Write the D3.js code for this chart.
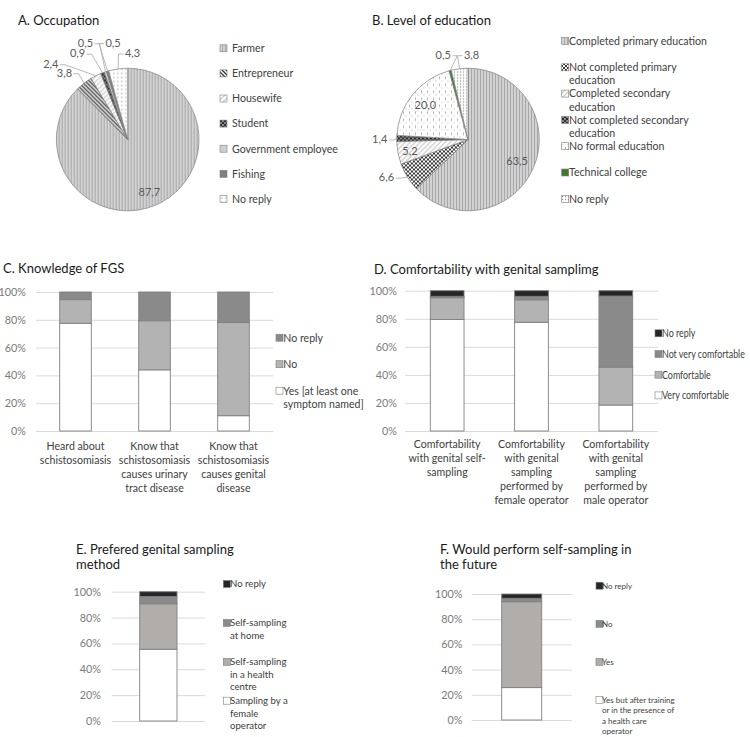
<!DOCTYPE html>
<html><head><meta charset="utf-8">
<script src="https://cdn.jsdelivr.net/npm/d3@7"></script>
<style>body{margin:0;background:#fff} text{font-family:Lato,"Open Sans",sans-serif}</style>
</head><body><svg id="c" width="750" height="737"></svg>
<script>
// ---------------- DATA ----------------
const occupationCategories = ["Farmer","Entrepreneur","Housewife","Student","Government employee","Fishing","No reply"];
const occupationValues = [87.7,3.8,2.4,0.9,0.5,0.5,4.3];

const educationCategories = [["Completed primary education"],["Not completed primary","education"],["Completed secondary","education"],["Not completed secondary","education"],["No formal education"],["Technical college"],["No reply"]];
const educationValues = [63.5,6.6,5.2,1.4,20.0,0.5,3.8];

const knowledgeCategories = [["Heard about","schistosomiasis"],["Know that","schistosomiasis","causes urinary","tract disease"],["Know that","schistosomiasis","causes genital","disease"]];
const knowledgeSeries = [["Yes [at least one","symptom named]"],["No"],["No reply"]];
const knowledgeYes = [77.5,44.0,11.0];
const knowledgeNo = [17.0,35.3,67.0];
const knowledgeNoReply = [5.5,20.7,22.0];

const comfortCategories = [["Comfortability","with genital self-","sampling"],["Comfortability","with genital","sampling","performed by","female operator"],["Comfortability","with genital","sampling","performed by","male operator"]];
const comfortSeries = [["Very comfortable"],["Comfortable"],["Not very comfortable"],["No reply"]];
const comfortVery = [79.5,77.5,18.5];
const comfortComfortable = [15.5,16.0,27.0];
const comfortNotVery = [1.0,2.5,50.7];
const comfortNoReply = [4.0,4.0,3.8];

const preferredSeries = [["Sampling by a","female","operator"],["Self-sampling","in a health","centre"],["Self-sampling","at home"],["No reply"]];
const preferredValues = [55.5,35.2,5.6,3.7];

const futureSeries = [["Yes but after training","or in the presence of","a health care","operator"],["Yes"],["No"],["No reply"]];
const futureValues = [25.7,68.2,2.7,3.4];

const percentTicks = [0,20,40,60,80,100];

// ---------------- SETUP ----------------
const svg = d3.select("#c");
const fmt = d3.formatLocale({decimal:",",thousands:".",grouping:[3],currency:["",""]}).format(".1f");
const defs = svg.append("defs");
function pattern(id,w,h,bg,build){
  const p = defs.append("pattern").attr("id",id).attr("patternUnits","userSpaceOnUse").attr("width",w).attr("height",h);
  p.append("rect").attr("width",w).attr("height",h).attr("fill",bg);
  build(p);
}
pattern("vstripe",3,3,"#d2d2d2",p=>p.append("rect").attr("x",0).attr("width",1).attr("height",3).attr("fill","#a8a8a8"));
pattern("diagDark",4,4,"#fff",p=>p.append("path").attr("d","M0,0L4,4M-1,3L1,5M3,-1L5,1").attr("stroke","#333").attr("stroke-width",1.3));
pattern("diagLight",5,5,"#fff",p=>p.append("path").attr("d","M0,5L5,0M-1,1L1,-1M4,6L6,4").attr("stroke","#c4c4c4").attr("stroke-width",1.1));
pattern("checker",4,4,"#888",p=>{p.append("rect").attr("width",2).attr("height",2).attr("fill","#2e2e2e");p.append("rect").attr("x",2).attr("y",2).attr("width",2).attr("height",2).attr("fill","#2e2e2e");});
pattern("crossDark",4,4,"#fff",p=>p.append("path").attr("d","M0,0L4,4M-1,3L1,5M3,-1L5,1M0,4L4,0M-1,1L1,-1M3,5L5,3").attr("stroke","#3a3a3a").attr("stroke-width",1));
pattern("dots",4,4,"#fff",p=>p.append("circle").attr("cx",2).attr("cy",2).attr("r",0.7).attr("fill","#9a9a9a"));
pattern("dotsDense",3,3,"#fff",p=>p.append("circle").attr("cx",1.5).attr("cy",1.5).attr("r",0.7).attr("fill","#909090"));
pattern("dotDash",6,7,"#fff",p=>{p.append("rect").attr("x",1).attr("y",0).attr("width",0.9).attr("height",2.5).attr("fill","#a8a8a8");p.append("circle").attr("cx",4).attr("cy",4.5).attr("r",0.6).attr("fill","#a8a8a8");});

const occFills = ["url(#vstripe)","url(#diagDark)","url(#diagLight)","url(#checker)","#d0d0d0","#7f7f7f","url(#dots)"];
const eduFills = ["url(#vstripe)","url(#crossDark)","url(#diagLight)","url(#checker)","url(#dotDash)","#3e7b2f","url(#dotsDense)"];

function title(lines,x,y){
  const t = svg.append("text").attr("x",x).attr("y",y).attr("font-size",13).attr("fill","#1a1a1a");
  lines.forEach((l,i)=>t.append("tspan").attr("x",x).attr("dy",i?15:0).text(l));
}

function legend(items,fills,cfg){
  const g = svg.append("g");
  const sc = cfg.sc || 1;
  items.forEach((lines,i)=>{
    const cy = cfg.y0 + i*cfg.step;
    g.append("rect").attr("x",cfg.sx).attr("y",cy-3.5).attr("width",7).attr("height",7)
      .attr("fill",fills[i]).attr("stroke","#7f7f7f").attr("stroke-width",0.6);
    const t = g.append("text").attr("transform",`translate(${cfg.tx},${cy+cfg.fs*0.36}) scale(${sc},1)`)
      .attr("x",0).attr("y",0).attr("font-size",cfg.fs).attr("fill","#404040");
    lines.forEach((l,j)=>t.append("tspan").attr("x",0).attr("dy",j?cfg.lh:0).text(l));
  });
}

// ---------------- PIES ----------------
function pie(cfg){
  const g = svg.append("g").attr("transform",`translate(${cfg.cx},${cfg.cy})`);
  const arcs = d3.pie().sort(null)(cfg.values);
  const arc = d3.arc().innerRadius(0).outerRadius(cfg.r);
  g.selectAll("path.s").data(arcs).join("path").attr("class","s").attr("d",arc)
    .attr("fill",(d,i)=>cfg.fills[i]).attr("stroke","#7f7f7f").attr("stroke-width",0.7);
  arcs.forEach((a,i)=>{
    const L = cfg.labels[i];
    const m = (a.startAngle+a.endAngle)/2;
    const sx = Math.sin(m), sy = -Math.cos(m);
    if(L.in!==undefined){
      g.append("text").attr("x",sx*cfg.r*L.in).attr("y",sy*cfg.r*L.in+4).attr("text-anchor","middle")
        .attr("font-size",11).attr("fill","#595959").text(fmt(cfg.values[i]));
    } else {
      const px = sx*cfg.r, py = sy*cfg.r;
      const lx = px+L.dx, ly = py+L.dy;
      const t = g.append("text").attr("x",lx).attr("y",ly+4).attr("text-anchor","middle")
        .attr("font-size",11).attr("fill","#595959").text(fmt(cfg.values[i]));
      const w = t.node().getComputedTextLength();
      const side = L.dx<0 ? 1 : -1;
      const ex = lx + side*(w/2+1.5), ex2 = ex + side*5;
      g.append("path").attr("d",`M${ex},${ly+1}L${ex2},${ly+1}L${px},${py}`)
        .attr("fill","none").attr("stroke","#a6a6a6").attr("stroke-width",0.8);
    }
  });
}

title(["A. Occupation"],18,25);
pie({cx:127.7,cy:139.5,r:71.3,values:occupationValues,fills:occFills,
  labels:[{in:0.8},{dx:-19.6,dy:-10.4},{dx:-45,dy:-12},{dx:-25,dy:-19.6},{dx:-20,dy:-29},{dx:5.5,dy:-28.6},{dx:14.5,dy:-15.8}]});
legend(occupationCategories.map(d=>[d]),occFills,{sx:220,tx:232,y0:48.3,step:25.1,lh:13,fs:10.6});

title(["B. Level of education"],372,25);
pie({cx:468,cy:139.5,r:71.3,values:educationValues,fills:eduFills,
  labels:[{in:0.75},{dx:-21,dy:0},{in:0.83},{dx:-17,dy:0.6},{in:0.77},{dx:-7,dy:-15.7},{dx:12,dy:-14}]});
legend(educationCategories,eduFills,{sx:561.7,tx:569,y0:41,step:26.3,lh:13.3,fs:10.6});

// ---------------- STACKED BARS ----------------
function stacked(cfg){
  const g = svg.append("g");
  const n = cfg.cats.length;
  const x = d3.scaleBand().domain(d3.range(n)).range([cfg.x0,cfg.x1]).paddingInner(0.6).paddingOuter(0.3);
  const y = d3.scaleLinear().domain([0,100]).range([cfg.yb,cfg.yt]);
  g.append("g").attr("transform",`translate(${cfg.x0},0)`)
    .call(d3.axisLeft(y).tickValues(percentTicks).tickSize(-(cfg.x1-cfg.x0)).tickFormat(""))
    .call(a=>{a.select(".domain").remove();a.selectAll("line").attr("stroke","#d9d9d9").attr("stroke-width",1);});
  g.append("g").attr("transform",`translate(${cfg.tickEnd},0)`)
    .call(d3.axisLeft(y).tickValues(percentTicks).tickSize(0).tickPadding(0).tickFormat(d=>d+"%"))
    .call(a=>{a.select(".domain").remove();a.selectAll("text").attr("font-size",10.8).attr("fill","#7a7a7a").attr("font-family","Lato,'Open Sans',sans-serif");});
  const rows = d3.range(n).map(i=>{const o={};cfg.series.forEach((s,k)=>o[k]=s[i]);return o;});
  const st = d3.stack().keys(d3.range(cfg.series.length))(rows);
  st.forEach((layer,k)=>{
    g.selectAll(null).data(layer).join("rect")
      .attr("x",(d,i)=>x(i)).attr("width",x.bandwidth())
      .attr("y",d=>y(d[1])).attr("height",d=>y(d[0])-y(d[1]))
      .attr("fill",cfg.colors[k]).attr("stroke","#808080").attr("stroke-width",0.9);
  });
  if(cfg.cats[0]){
    cfg.cats.forEach((lines,i)=>{
      const t = g.append("text").attr("x",x(i)+x.bandwidth()/2).attr("y",cfg.xlY).attr("text-anchor","middle")
        .attr("font-size",10.6).attr("fill","#404040");
      lines.forEach((l,j)=>t.append("tspan").attr("x",x(i)+x.bandwidth()/2).attr("dy",j?14:0).text(l));
    });
  }
  const names = cfg.names.slice().reverse();
  const cols = cfg.colors.slice().reverse();
  legend(names,cols,cfg.legend);
}

title(["C. Knowledge of FGS"],3,273);
stacked({x0:36,x1:273,yt:292,yb:431,tickEnd:26,cats:knowledgeCategories,names:knowledgeSeries,
  series:[knowledgeYes,knowledgeNo,knowledgeNoReply],colors:["#ffffff","#b3b3b3","#8a8a8a"],xlY:450,
  legend:{sx:276,tx:283.3,y0:337.7,step:26.5,lh:13.6,fs:10.6}});

title(["D. Comfortability with genital samplimg"],374,274);
stacked({x0:405,x1:658,yt:290.7,yb:431,tickEnd:397,cats:comfortCategories,names:comfortSeries,
  series:[comfortVery,comfortComfortable,comfortNotVery,comfortNoReply],colors:["#ffffff","#b3b3b3","#8a8a8a","#262626"],xlY:448,
  legend:{sx:655,tx:662,y0:333.3,step:20.7,lh:13,fs:10.6,sc:0.84}});

title(["E. Prefered genital sampling","method"],76,554);
stacked({x0:111.7,x1:205,yt:591.7,yb:721,tickEnd:101,cats:[null],names:preferredSeries,
  series:preferredValues.map(v=>[v]),colors:["#ffffff","#b0adab","#8a8a8a","#262626"],
  legend:{sx:223.3,tx:230,y0:584,step:38.9,lh:12.5,fs:9.6}});

title(["F. Would perform self-sampling in","the future"],440,554);
stacked({x0:471.7,x1:571.7,yt:594,yb:720,tickEnd:462.5,cats:[null],names:futureSeries,
  series:futureValues.map(v=>[v]),colors:["#ffffff","#b0adab","#8a8a8a","#262626"],
  legend:{sx:596,tx:602,y0:585.7,step:38.1,lh:10.5,fs:8}});
</script></body></html>
